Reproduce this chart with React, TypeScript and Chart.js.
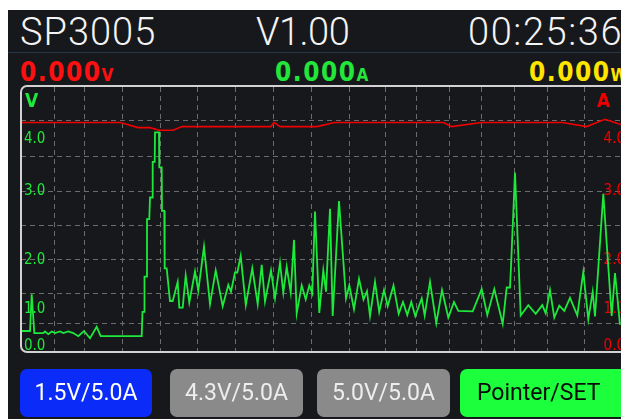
import React, { useEffect, useRef } from 'react';
import { Chart, registerables } from 'chart.js';

Chart.register(...registerables);

// Time axis: sample position along the trace (0 .. 600)
const voltTime = [
  0, 9, 10.7, 13.3, 22.3, 24, 27.3, 30.7, 34, 39,
  42.3, 47.3, 52.3, 57.3, 63, 69, 75.7, 79.7, 120.7, 121.5,
  123.3, 123.5, 126, 126, 128.3, 129, 131.3, 131.7, 133.7, 134,
  138, 138.3, 140.7, 141, 143.3, 143.7, 145.7, 149, 151.7, 156.7,
  158.3, 161.7, 164.7, 168.3, 174, 177.3, 183, 189, 194.7, 201.7,
  207.3, 210, 214, 216.3, 219.7, 224.8, 231.3, 236.7, 240.7, 244,
  250, 254, 259, 262.3, 265.7, 269.7, 273, 275.7, 280.7, 284.7,
  288.3, 291.3, 294, 298.3, 302.3, 305, 309, 311.7, 318, 325,
  328.3, 333, 338, 342.5, 346, 349, 354, 358.2, 363, 366.7,
  372.5, 377.7, 382, 386.3, 390.3, 394.3, 400.7, 403.7, 409, 415.3,
  421, 427.3, 433, 437.3, 451.7, 460.7, 466.3, 473.3, 481.7, 485.7,
  489, 490, 494, 499.7, 507.3, 514.7, 521.3, 524.7, 529, 533.3,
  538.3, 543.3, 549, 556.3, 562.3, 567.3, 571.7, 574, 582.3, 590.7,
  594, 599,
];
const voltValues = [
  0.29, 0.29, 1.0, 0.25, 0.25, 0.28, 0.23, 0.28, 0.25, 0.28,
  0.25, 0.28, 0.25, 0.19, 0.29, 0.15, 0.37, 0.19, 0.19, 0.66,
  0.66, 1.34, 1.34, 2.45, 2.45, 2.87, 2.87, 3.56, 3.56, 4.13,
  4.13, 3.45, 3.45, 2.61, 2.61, 1.5, 1.5, 0.87, 0.87, 1.24,
  0.74, 0.74, 1.36, 0.84, 1.44, 1.07, 1.92, 0.81, 1.46, 0.77,
  1.18, 1.05, 1.42, 1.42, 1.74, 0.79, 1.5, 0.81, 1.57, 0.86,
  1.46, 0.92, 1.61, 1.03, 1.53, 1.03, 2.05, 0.63, 1.17, 0.9,
  1.17, 1.02, 2.6, 0.64, 1.46, 1.05, 2.65, 0.58, 2.8, 0.92,
  1.17, 0.71, 1.3, 0.9, 1.06, 0.58, 1.24, 0.66, 1.08, 0.77,
  1.17, 0.62, 0.85, 0.6, 0.85, 0.58, 0.92, 0.59, 1.24, 0.44,
  1.08, 0.55, 0.85, 0.68, 0.67, 1.1, 0.6, 1.1, 0.43, 1.13,
  1.13, 1.53, 3.35, 0.59, 0.79, 0.62, 0.79, 0.63, 1.08, 0.55,
  0.78, 0.68, 0.93, 0.59, 1.43, 0.52, 1.05, 0.57, 2.94, 0.58,
  1.41, 0.41,
];
const ampTime = [0, 99.5, 117, 129, 138, 152, 161, 250, 253, 259, 296, 313.5, 422.5, 430.5, 460.5, 541.5, 565.5, 584, 600];
const ampValues = [4.32, 4.32, 4.22, 4.22, 4.17, 4.17, 4.24, 4.24, 4.32, 4.24, 4.24, 4.32, 4.32, 4.24, 4.32, 4.32, 4.24, 4.38, 4.28];

const gridTimes = [33, 63, 101, 139, 176, 214, 252, 290, 328, 365, 395, 428, 460, 493, 526, 563];
const gridLevels = [4.348, 3.671, 2.995, 2.338, 1.681, 1.024, 0.444];
const labelLevels = [0, 0.715, 1.652, 2.986, 4.0];
const labelTexts = ['0.0', '1.0', '2.0', '3.0', '4.0'];

const headerTexts = ['SP3005', 'V1.00', '00:25:36'];
const readoutValues = ['0.000', '0.000', '0.000'];
const readoutUnits = ['V', 'A', 'W'];
const buttonTexts = ['1.5V/5.0A', '4.3V/5.0A', '5.0V/5.0A', 'Pointer/SET'];

const Y_MIN = -0.116;
const Y_MAX = 5.005;
const GREEN = '#1ee83c';
const RED = '#ee0000';
const GRID = '#6c6c6c';
const COND = '"DejaVu Sans Condensed", "DejaVu Sans", sans-serif';
const THIN = 'Roboto, "Open Sans", sans-serif';

const noPad = (s: any) => {
  s.paddingTop = 0; s.paddingBottom = 0; s.paddingLeft = 0; s.paddingRight = 0;
};
const zeroWidth = (s: any) => { s.width = 0; noPad(s); };
const zeroHeight = (s: any) => { s.height = 0; noPad(s); };

function TraceChart() {
  const ref = useRef<HTMLCanvasElement | null>(null);
  useEffect(() => {
    if (!ref.current) return;
    const chart = new Chart(ref.current, {
      type: 'line',
      data: {
        datasets: [
          {
            data: voltTime.map((t, i) => ({ x: t, y: voltValues[i] })),
            yAxisID: 'yV',
            borderColor: GREEN,
            borderWidth: 1.8,
            pointRadius: 0,
            tension: 0,
          },
          {
            data: ampTime.map((t, i) => ({ x: t, y: ampValues[i] })),
            yAxisID: 'yA',
            borderColor: RED,
            borderWidth: 1.6,
            pointRadius: 0,
            tension: 0,
          },
        ],
      },
      options: {
        animation: false,
        responsive: false,
        devicePixelRatio: 1,
        layout: { padding: 0 },
        plugins: { legend: { display: false }, tooltip: { enabled: false } },
        scales: {
          x: {
            type: 'linear', min: 0, max: 600,
            afterBuildTicks: (s: any) => { s.ticks = gridTimes.map((v) => ({ value: v })); },
            afterFit: zeroHeight,
            ticks: { display: false },
            grid: { color: GRID, lineWidth: 1, drawTicks: false },
            border: { display: false, dash: [5, 4] },
          },
          yGrid: {
            type: 'linear', position: 'left', min: Y_MIN, max: Y_MAX,
            afterBuildTicks: (s: any) => { s.ticks = gridLevels.map((v) => ({ value: v })); },
            afterFit: zeroWidth,
            ticks: { display: false },
            grid: { color: GRID, lineWidth: 1, drawTicks: false },
            border: { display: false, dash: [5, 4] },
          },
          yV: {
            type: 'linear', position: 'left', min: Y_MIN, max: Y_MAX,
            afterBuildTicks: (s: any) => { s.ticks = labelLevels.map((v) => ({ value: v })); },
            afterFit: zeroWidth,
            ticks: {
              mirror: true, padding: 3, autoSkip: false, color: GREEN,
              font: { family: COND, size: 15 },
              callback: (_v: any, i: number) => labelTexts[i],
            },
            grid: { display: false },
            border: { display: false },
          },
          yA: {
            type: 'linear', position: 'right', min: Y_MIN, max: Y_MAX,
            afterBuildTicks: (s: any) => { s.ticks = labelLevels.map((v) => ({ value: v })); },
            afterFit: zeroWidth,
            ticks: {
              mirror: true, padding: 4, autoSkip: false, color: RED,
              font: { family: COND, size: 15 },
              callback: (_v: any, i: number) => labelTexts[i],
            },
            grid: { display: false },
            border: { display: false },
          },
        },
      } as any,
    });
    return () => chart.destroy();
  }, []);
  return (
    <canvas
      ref={ref}
      width={600}
      height={265}
      style={{ position: 'absolute', left: 21, top: 87, width: 600, height: 265 }}
    />
  );
}

const abs = (o: React.CSSProperties): React.CSSProperties => ({ position: 'absolute', whiteSpace: 'nowrap', ...o });

export default function App() {
  const readoutColors = ['#ff1010', '#22e63a', '#ffe400'];
  const readoutLeft = [20, 275, 529];
  const headerLeft = [20, 256, 468];
  const headerSpacing = [1, -0.5, 1.6];
  const buttons = [
    { left: 20, width: 132, bg: '#0b2cf8', color: '#ffffff', textLeft: null as number | null },
    { left: 170, width: 133, bg: '#8a8a8a', color: '#ededed', textLeft: null },
    { left: 317, width: 133, bg: '#8a8a8a', color: '#ededed', textLeft: null },
    { left: 460, width: 180, bg: '#1bff3c', color: '#0a0a0a', textLeft: 17 },
  ];
  return (
    <div style={{ position: 'fixed', left: 0, top: 0, width: 621, height: 419, overflow: 'hidden', background: '#ffffff' }}>
      <div style={abs({ left: 8, top: 10, width: 613, height: 409, background: '#17181b' })} />
      {headerTexts.map((t, i) => (
        <div key={t} style={abs({ left: headerLeft[i], top: 13, fontFamily: THIN, fontWeight: 300, fontSize: 38, lineHeight: '38px', color: '#f4f4f4', letterSpacing: headerSpacing[i] })}>{t}</div>
      ))}
      <div style={abs({ left: 8, top: 52, width: 613, height: 1, background: '#24384a' })} />
      {readoutValues.map((v, i) => (
        <div key={i} style={abs({ left: readoutLeft[i], top: 59, fontFamily: COND, fontWeight: 700, fontSize: 26, lineHeight: '26px', color: readoutColors[i], letterSpacing: 1.5 })}>
          {v}<span style={{ fontSize: 17, letterSpacing: 0 }}>{readoutUnits[i]}</span>
        </div>
      ))}
      <TraceChart />
      <div style={abs({ left: 20, top: 85, width: 640, height: 268, boxSizing: 'border-box', border: '2px solid #d2d2d2', borderRadius: 7, pointerEvents: 'none' })} />
      <div style={abs({ left: 25, top: 91, fontFamily: COND, fontWeight: 700, fontSize: 19, lineHeight: '19px', color: GREEN })}>V</div>
      <div style={abs({ left: 597, top: 91, fontFamily: COND, fontWeight: 700, fontSize: 19, lineHeight: '19px', color: RED })}>A</div>
      {buttons.map((b, i) => (
        <div key={i} style={abs({ left: b.left, top: 369, width: b.width, height: 48, borderRadius: 7, background: b.bg })}>
          <div style={abs({ left: b.textLeft ?? 0, top: 0, width: b.textLeft == null ? b.width : undefined, height: 48, lineHeight: '48px', textAlign: 'center', fontFamily: THIN, fontSize: 23, color: b.color })}>
            {buttonTexts[i]}
          </div>
        </div>
      ))}
    </div>
  );
}
